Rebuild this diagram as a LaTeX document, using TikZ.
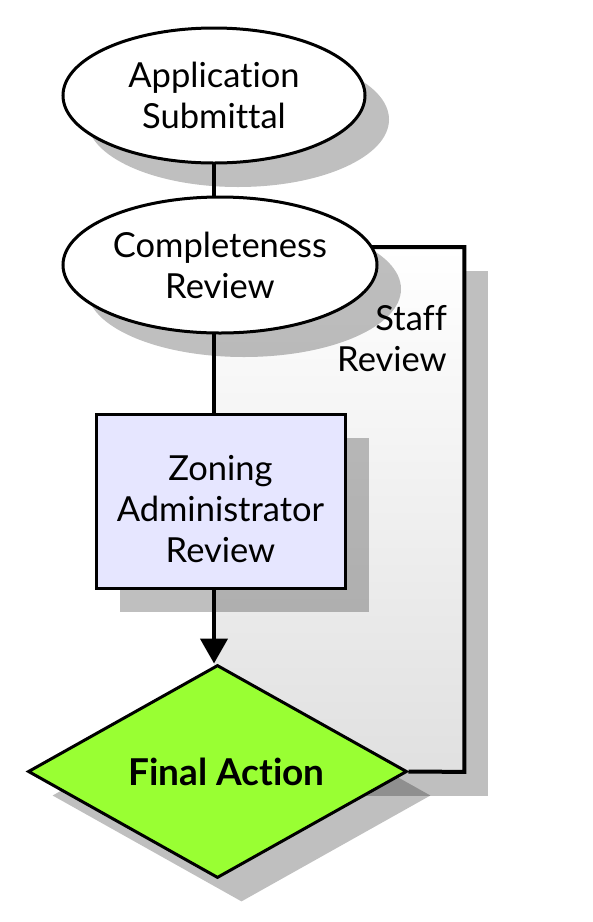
\documentclass[tikz,border=0pt]{standalone}
\usepackage{fontspec}
\setmainfont{Lato}[Ligatures={NoCommon}]
\usetikzlibrary{shapes.geometric,shadows,arrows.meta}
\pgfdeclarelayer{shade}
\pgfdeclarelayer{lines}
\pgfsetlayers{shade,lines,main}
\definecolor{lav}{RGB}{230,230,255}
\definecolor{lime}{RGB}{153,255,51}
\begin{document}
\begin{tikzpicture}[x=1pt,y=-1pt,
  shad/.style={drop shadow={shadow xshift=24pt,shadow yshift=-24pt,fill=black,opacity=0.25}},
  txt/.style={font=\fontsize{34.5}{41}\selectfont, align=center, text=black},
  boldtxt/.style={font=\fontsize{37}{41}\selectfont\bfseries, align=center, text=black},
  oval/.style={ellipse, draw=black, line width=3pt, fill=white, inner sep=0pt, shad, txt},
  procbox/.style={rectangle, draw=black, line width=3pt, fill=lav, inner sep=0pt, shad},
  dia/.style={diamond, draw=black, line width=3pt, fill=lime, aspect=1.78, inner sep=0pt, shad},
  staffbg/.style={rectangle, inner sep=0pt, top color=white, bottom color=black!12, shad},
  conn/.style={line width=4pt, draw=black}]
\useasboundingbox (0,0) rectangle (593,922);

\node[oval, minimum width=302pt, minimum height=135pt] (app) at (214,95.5) {Application\\Submittal};
\node[oval, minimum width=314pt, minimum height=136pt] (comp) at (220,265) {Completeness\\Review};
\node[procbox, minimum width=249pt, minimum height=174pt,
      label={[txt, yshift=-8pt]center:Zoning\\Administrator\\Review}] (zon) at (220.5,501) {};
\node[dia, minimum width=379pt, minimum height=213pt,
      label={[boldtxt, xshift=9pt]center:Final Action}] (fin) at (217.5,771.5) {};
\node[txt, align=right, anchor=east, inner sep=0pt] (stl) at (447,338.5) {Staff\\Review};

\begin{pgfonlayer}{shade}
\node[staffbg, minimum width=250pt, minimum height=524.5pt, anchor=north west] (staff) at (214,247) {};
\end{pgfonlayer}

\begin{pgfonlayer}{lines}
\draw[conn] (app.center) -- (app.center |- comp.center);
\draw[conn] (app.center |- comp.center) -- (app.center |- zon.center);
\draw[conn, line width=4.5pt, -{Triangle[width=27pt,length=25pt]}] (app.center |- zon.south) -- (app.center |- fin.north);
\draw[conn, line join=miter] (staff.north west) -- (staff.north east) -- (staff.south east) -- (fin.east);
\end{pgfonlayer}
\end{tikzpicture}
\end{document}
